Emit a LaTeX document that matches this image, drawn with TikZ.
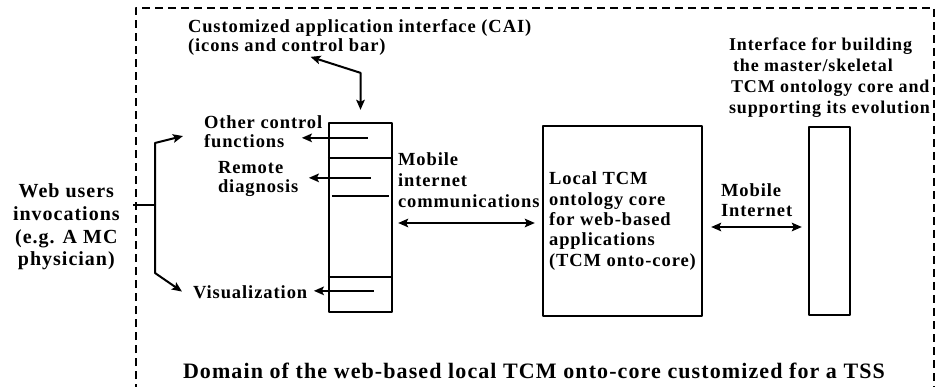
\documentclass[tikz,border=0pt]{standalone}
\usepackage{fontspec}
\setmainfont{Liberation Serif}[LetterSpace=5]
\usepackage{tikz}
\usetikzlibrary{arrows.meta}

\begin{document}
\begin{tikzpicture}[x=1pt,y=-1pt,line width=2pt,join=round,
    >={Stealth[length=10pt,width=8.5pt,inset=2pt]},
    lbl/.style={font=\bfseries\fontsize{18.5}{19.5}\selectfont,inner sep=0pt,align=left,anchor=north west},
    blk/.style={draw,line width=2.3pt,inner sep=0pt}] % TSS domain: CAI bar, onto-core, master interface
  \useasboundingbox (0,0) rectangle (936,387);
  \draw[line width=1.8pt,dash pattern=on 8pt off 5pt] (136,392) -- (136,8) -- (934,8) -- (934,392);

  % boxes
  \node[blk,minimum width=63,minimum height=189] (bar) at (360.5,217.5) {};
  \node[blk,minimum width=159,minimum height=190,align=left,
        font=\bfseries\fontsize{18.5}{20.3}\selectfont] (core) at (622.5,221)
        {Local TCM\\ontology core\\for web-based\\applications\\(TCM onto-core)};
  \node[blk,minimum width=41,minimum height=188] (master) at (829.5,221) {};

  % compartments of the bar
  \draw[line width=1.7pt] ([shift={(0,36)}]bar.north west) -- ([shift={(0,36)}]bar.north east);
  \draw[line width=1.5pt] ([shift={(4,74)}]bar.north west) -- ([shift={(-4,74)}]bar.north east);
  \draw[line width=1.7pt] ([shift={(0,155)}]bar.north west) -- ([shift={(0,155)}]bar.north east);

  % labels
  \node[lbl] (cai) at (187,18) {Customized application interface (CAI)\\(icons and control bar)};
  \node[lbl,font=\bfseries\fontsize{18}{21}\selectfont] (iface) at (728,37)
        {Interface for building\\\hspace{4pt}the master/skeletal\\\hspace{2pt}TCM ontology core and\\supporting its evolution};
  \node[lbl,font=\bfseries\fontsize{18.5}{19}\selectfont] (ctrl) at (203,115) {Other control\\functions};
  \node[lbl,font=\bfseries\fontsize{18.5}{19}\selectfont] (rem) at (217,160) {Remote\\diagnosis};
  \node[lbl] (vis) at (192,285) {Visualization};
  \node[lbl,font=\bfseries\fontsize{18.5}{21}\selectfont] (mob) at (397,152) {Mobile\\internet\\communications};
  \node[lbl] (minet) at (720,183) {Mobile\\Internet};
  \node[lbl,align=center,font=\bfseries\fontsize{20}{22.7}\selectfont] (web) at (12,183)
        {Web users\\invocations\\(e.g. A MC\\physician)};
  \node[lbl,font=\bfseries\fontsize{22}{24}\selectfont] (dom) at (182,362)
        {Domain of the web-based local TCM onto-core customized for a TSS};

  % links
  \draw[<->] ([shift={(0,-12)}]bar.north) -- ++(0,-37) -- ++(-50,-16);
  \draw[<->] ([shift={(5,5.5)}]bar.east) -- ([shift={(-7,2)}]core.west);
  \draw[<->] ([shift={(8,6)}]core.east) -- ([shift={(-6,6)}]master.west);

  \draw[->] ([shift={(40,16)}]bar.north west) -- ++(-66,0);
  \draw[->] ([shift={(43,56)}]bar.north west) -- ++(-62,0);
  \draw[->] ([shift={(46,169)}]bar.north west) -- ++(-60,0);

  % web users fan out
  \coordinate (brk) at (155,205);
  \draw (brk) -- ++(-22,0);
  \draw[->] (brk) -- ++(0,-62) -- ([shift={(-20,4)}]ctrl.west);
  \draw[->] (brk) -- ++(0,68) -- ([shift={(-10,-1)}]vis.west);
\end{tikzpicture}
\end{document}
